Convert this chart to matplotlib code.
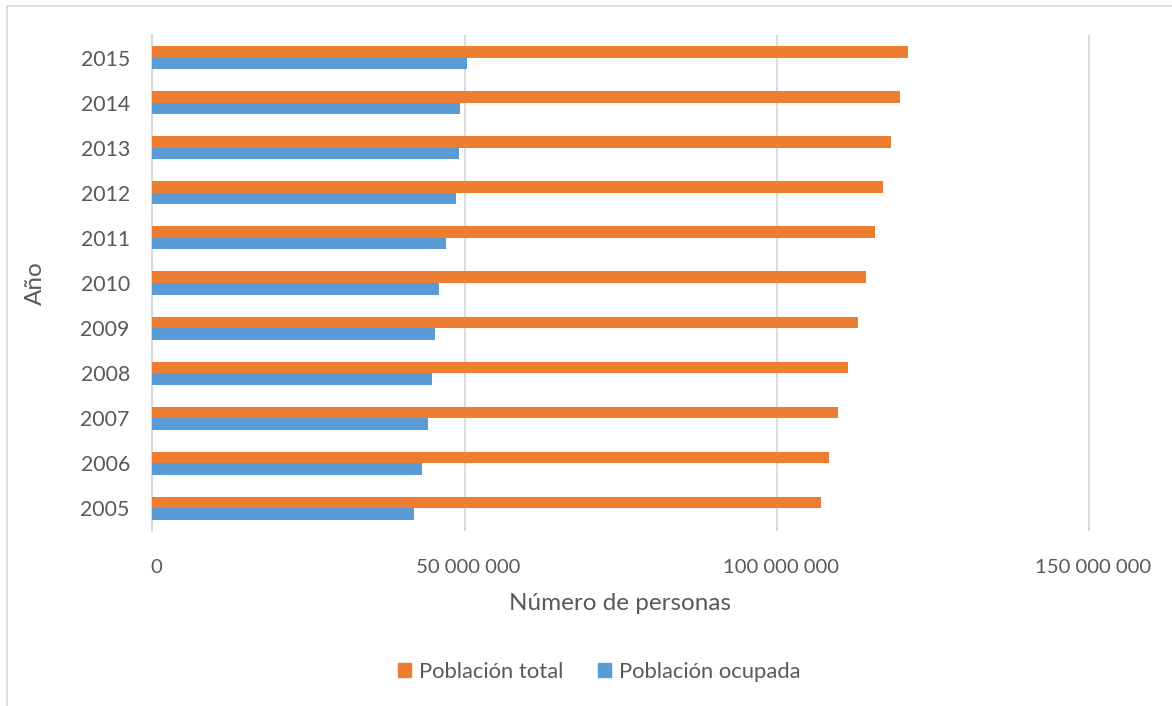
import numpy as np
import matplotlib.pyplot as plt
from matplotlib.patches import Patch
from matplotlib.lines import Line2D
from matplotlib.ticker import FuncFormatter
from matplotlib.transforms import ScaledTranslation

years = ["2005", "2006", "2007", "2008", "2009", "2010",
         "2011", "2012", "2013", "2014", "2015"]
poblacion_total = [107.1e6, 108.4e6, 109.8e6, 111.4e6, 112.9e6, 114.3e6,
                   115.7e6, 117.0e6, 118.3e6, 119.7e6, 121.0e6]
poblacion_ocupada = [41.9e6, 43.2e6, 44.2e6, 44.8e6, 45.3e6, 45.9e6,
                     47.1e6, 48.7e6, 49.1e6, 49.3e6, 50.4e6]

ORANGE = "#ED7D31"
BLUE = "#5B9BD5"
TEXT = "#595959"
GRID = "#D9D9D9"

plt.rcParams["font.family"] = ["Lato", "DejaVu Sans"]

fig = plt.figure(figsize=(11.72, 7.06), dpi=100)
ax = fig.add_axes([152 / 1172, 175 / 706, 1000 / 1172, 496 / 706])

y = np.arange(len(years))
h = 0.257
ax.barh(y + h / 2, poblacion_total, height=h, color=ORANGE, zorder=3)
ax.barh(y - h / 2, poblacion_ocupada, height=h, color=BLUE, zorder=3)

ax.set_xlim(0, 160e6)
ax.set_ylim(-0.5, len(years) - 0.5)
ax.set_xticks([0, 50e6, 100e6, 150e6])
ax.xaxis.set_major_formatter(
    FuncFormatter(lambda v, p: f"{int(v):,}".replace(",", " ")))
ax.set_yticks(y)
ax.set_yticklabels(years)

ax.grid(axis="x", color=GRID, linewidth=1.3, zorder=0)
for s in ["top", "right", "bottom"]:
    ax.spines[s].set_visible(False)
ax.spines["left"].set_color(GRID)
ax.spines["left"].set_linewidth(1.5)
ax.tick_params(axis="x", length=0, labelsize=14.6, labelcolor=TEXT, pad=20)
ax.tick_params(axis="y", length=0, labelsize=15.3, labelcolor=TEXT, pad=16)

# Excel nudges the value labels slightly to the right
offset = ScaledTranslation(4 / 100, 0, fig.dpi_scale_trans)
for lbl in ax.get_xticklabels():
    lbl.set_transform(lbl.get_transform() + offset)

fig.text(620 / 1172, 1 - 603 / 706, "Número de personas", ha="center",
         va="center", fontsize=17.5, color=TEXT)
fig.text(35 / 1172, 1 - 283 / 706, "Año", ha="center", va="center",
         rotation=90, fontsize=17.5, color=TEXT)

handles = [Patch(color=ORANGE, label="Población total"),
           Patch(color=BLUE, label="Población ocupada")]
fig.legend(handles=handles, loc="center", ncol=2,
           bbox_to_anchor=(599 / 1172, 1 - 672 / 706), frameon=False,
           fontsize=15.8, labelcolor=TEXT, handlelength=0.6, handleheight=0.6,
           handletextpad=0.35, columnspacing=1.6)

# outer chart frame (only left and top edges are visible)
fig.add_artist(Line2D([7 / 1172, 7 / 1172], [0, 1 - 6 / 706],
                      transform=fig.transFigure, color=GRID, linewidth=1.2))
fig.add_artist(Line2D([7 / 1172, 1], [1 - 6 / 706, 1 - 6 / 706],
                      transform=fig.transFigure, color=GRID, linewidth=1.2))

fig.savefig("out.png", dpi=100)
